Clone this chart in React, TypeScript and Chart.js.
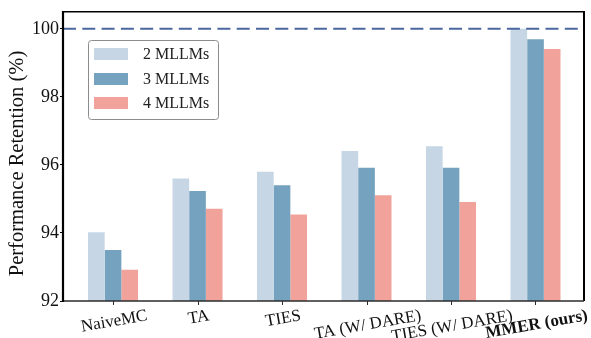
import React, { useEffect, useRef } from "react";
import { Chart, registerables } from "chart.js";

Chart.register(...registerables);

const categories = ["NaiveMC", "TA", "TIES", "TA (W/ DARE)", "TIES (W/ DARE)", "MMER (ours)"];
const series2 = [94.02, 95.6, 95.8, 96.41, 96.55, 100.0];
const series3 = [93.5, 95.23, 95.4, 95.92, 95.92, 99.69];
const series4 = [92.92, 94.71, 94.54, 95.11, 94.91, 99.41];
const seriesNames = ["2 MLLMs", "3 MLLMs", "4 MLLMs"];
const seriesColors = ["#c6d6e5", "#75a2be", "#f1a39b"];
const yTicks = [92, 94, 96, 98, 100];
const referenceLine = 100;
const yTitle = "Performance Retention (%)";

const FONT = "'Liberation Serif', 'Times New Roman', serif";

const overlay = {
  id: "overlay",
  afterDatasetsDraw(chart: any) {
    const { ctx, chartArea: a, scales } = chart;
    const y = scales.y.getPixelForValue(referenceLine);
    ctx.save();
    ctx.strokeStyle = "#4b67a0";
    ctx.lineWidth = 2;
    ctx.setLineDash([13, 6.3]);
    ctx.beginPath();
    ctx.moveTo(a.left, y);
    ctx.lineTo(a.right, y);
    ctx.stroke();
    ctx.restore();
  },
  afterDraw(chart: any) {
    const { ctx, chartArea: a, scales } = chart;
    ctx.save();
    // frame
    ctx.setLineDash([]);
    ctx.strokeStyle = "#000";
    ctx.lineWidth = 1.5;
    ctx.beginPath();
    ctx.moveTo(a.left, a.top);
    ctx.lineTo(a.right, a.top);
    ctx.stroke();
    ctx.lineWidth = 2;
    ctx.beginPath();
    ctx.moveTo(a.right, a.top - 0.75);
    ctx.lineTo(a.right, a.bottom);
    ctx.stroke();
    ctx.strokeStyle = "#2b2b2b";
    ctx.lineWidth = 1.6;
    ctx.beginPath();
    ctx.moveTo(a.left, a.bottom);
    ctx.lineTo(a.right, a.bottom);
    ctx.stroke();
    ctx.strokeStyle = "#000";
    ctx.lineWidth = 2.2;
    ctx.beginPath();
    ctx.moveTo(a.left, a.top - 0.75);
    ctx.lineTo(a.left, a.bottom + 1);
    ctx.stroke();

    // x tick marks
    ctx.strokeStyle = "#2b2b2b";
    ctx.lineWidth = 1;
    categories.forEach((_, i) => {
      const x = Math.round(scales.x.getPixelForValue(i)) + 0.5;
      ctx.beginPath();
      ctx.moveTo(x, a.bottom);
      ctx.lineTo(x, a.bottom + 4);
      ctx.stroke();
    });

    // x tick labels (rotated 10deg, centred on tick)
    const ang = (10 * Math.PI) / 180;
    categories.forEach((label, i) => {
      const bold = i === categories.length - 1;
      const size = 17;
      ctx.font = `${bold ? "bold " : ""}${size}px ${FONT}`;
      const w = ctx.measureText(label).width;
      const h = size * 1.1;
      const bboxH = w * Math.sin(ang) + h * Math.cos(ang);
      const x = scales.x.getPixelForValue(i);
      const cy = a.bottom + 4.5 + bboxH / 2;
      ctx.save();
      ctx.translate(x + 1, cy);
      ctx.rotate(-ang);
      ctx.fillStyle = "#111";
      ctx.textAlign = "center";
      ctx.textBaseline = "middle";
      ctx.fillText(label, 0, 1);
      ctx.restore();
    });

    // y title
    ctx.save();
    ctx.font = `20.5px ${FONT}`;
    ctx.fillStyle = "#111";
    ctx.translate(18, 163.5);
    ctx.rotate(-Math.PI / 2);
    ctx.textAlign = "center";
    ctx.textBaseline = "middle";
    ctx.fillText(yTitle, 0, 0);
    ctx.restore();

    // legend
    const lx = 88, ly = 40, lw = 130, lh = 79;
    ctx.save();
    ctx.fillStyle = "rgba(255,255,255,0.85)";
    ctx.strokeStyle = "#8c8c8c";
    ctx.lineWidth = 1;
    ctx.beginPath();
    (ctx as any).roundRect(lx + 0.5, ly + 0.5, lw, lh, 3);
    ctx.fill();
    ctx.stroke();
    const rows = [54, 79, 103];
    seriesNames.forEach((name, i) => {
      ctx.fillStyle = seriesColors[i];
      ctx.fillRect(94, rows[i] - 6, 34, 12);
      ctx.fillStyle = "#222";
      ctx.font = `16px ${FONT}`;
      ctx.textAlign = "left";
      ctx.textBaseline = "middle";
      ctx.fillText(name, 143, rows[i] + 1);
    });
    ctx.restore();
    ctx.restore();
  },
};

export default function App() {
  const ref = useRef<HTMLCanvasElement | null>(null);
  useEffect(() => {
    if (!ref.current) return;
    const all = [series2, series3, series4];
    const chart = new Chart(ref.current, {
      type: "bar",
      data: {
        datasets: all.map((s, k) => ({
          label: seriesNames[k],
          data: s.map((v, i) => ({ x: i, y: v })),
          backgroundColor: seriesColors[k],
          borderWidth: 0,
          barPercentage: 1,
          categoryPercentage: 0.592,
        })),
      },
      options: {
        responsive: false,
        animation: false,
        layout: { padding: { top: 6, right: 7, left: 0, bottom: 0 } },
        plugins: { legend: { display: false }, tooltip: { enabled: false } },
        scales: {
          x: {
            type: "linear",
            min: -0.592,
            max: 5.574,
            offset: false,
            afterBuildTicks: (s: any) => {
              s.ticks = categories.map((_, i) => ({ value: i }));
            },
            afterFit: (s: any) => {
              s.height = 37;
            },
            ticks: { display: false },
            border: { display: false },
            grid: { display: false, offset: false },
          },
          y: {
            min: 92,
            max: 100.5,
            afterBuildTicks: (s: any) => {
              s.ticks = yTicks.map((v) => ({ value: v }));
            },
            afterFit: (s: any) => {
              s.width = 63;
            },
            ticks: {
              includeBounds: false,
              padding: 1,
              color: "#111",
              font: { family: FONT, size: 18 },
              callback: (v: any) => String(v),
            },
            border: { display: false },
            grid: {
              drawOnChartArea: false,
              drawTicks: true,
              tickLength: 3,
              color: "#000",
              lineWidth: 1,
            },
          },
        },
      },
      plugins: [overlay],
    } as any);
    return () => chart.destroy();
  }, []);
  return (
    <div style={{ position: "absolute", left: 0, top: 0, width: 591, height: 338, background: "#fff" }}>
      <canvas ref={ref} width={591} height={338} style={{ display: "block" }} />
    </div>
  );
}
